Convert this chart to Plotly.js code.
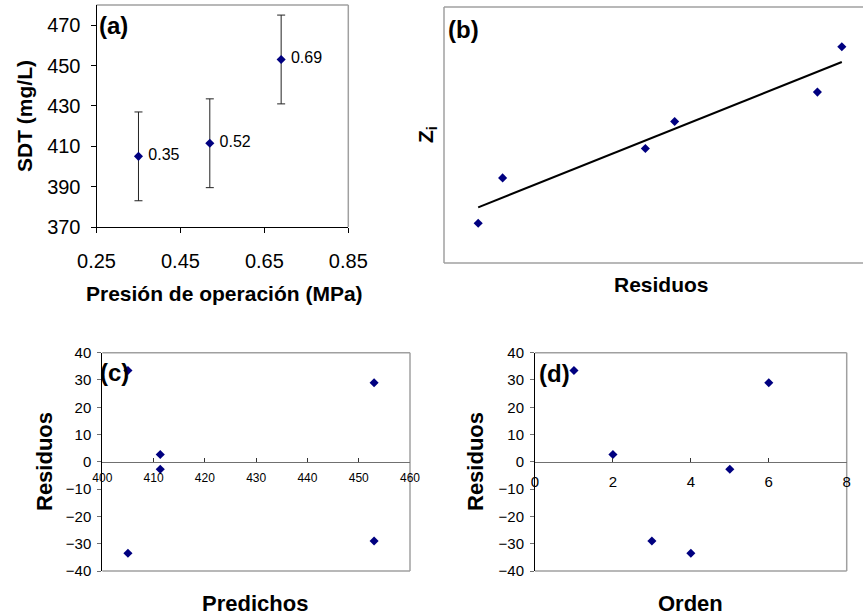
<!DOCTYPE html>
<html>
<head>
<meta charset="utf-8">
<script src="https://cdn.plot.ly/plotly-3.0.1.min.js"></script>
<style>html,body{margin:0;padding:0;background:#fff;}#chart{width:864px;height:616px;}</style>
</head>
<body>
<div id="chart"></div>
<script>
// Panel (a): SDT vs operating pressure
const pressure = [0.35, 0.52, 0.69];
const sdt = [405, 411.5, 453];
const sdtErr = [22, 22, 22];
const pressureLabels = ['0.35', '0.52', '0.69'];
const aXTicks = [0.25, 0.45, 0.65, 0.85];
const aYTicks = [370, 390, 410, 430, 450, 470];

// Panel (b): normal probability plot of residuals
const residSorted = [-33.5, -29, -2.7, 2.7, 29, 33.5];
const zScores = [-1.38, -0.67, -0.21, 0.21, 0.67, 1.38];
const fitX = [-33.5, 33.5];
const fitZ = [-1.13, 1.14];

// Panel (c): residuals vs predicted
const predicted = [405, 405, 411.3, 411.3, 453, 453];
const residPred = [33.5, -33.5, 2.7, -2.7, 29, -29];
const cXTicks = [400, 410, 420, 430, 440, 450, 460];
const resTicks = [-40, -30, -20, -10, 0, 10, 20, 30, 40];

// Panel (d): residuals vs run order
const order = [1, 2, 3, 4, 5, 6];
const residOrder = [33.5, 2.7, -29, -33.5, -2.7, 29];
const dXTicks = [0, 2, 4, 6, 8];

const FONT = 'Liberation Sans, Arial, sans-serif';
const NAVY = '#000080';
const mk = {symbol: 'diamond', color: NAVY, size: 7};

const W = 864, H = 616;
const px = v => v / W;
const py = v => 1 - v / H;

const traces = [
  {x: pressure, y: sdt, mode: 'markers+text', type: 'scatter', xaxis: 'x', yaxis: 'y',
   marker: mk, text: pressureLabels, texttemplate: '\u00a0%{text}', textposition: 'middle right',
   textfont: {family: FONT, size: 16, color: '#000'},
   error_y: {type: 'data', array: sdtErr, visible: true, color: '#222', thickness: 1, width: 4},
   cliponaxis: false},
  {x: fitX, y: fitZ, mode: 'lines', type: 'scatter', xaxis: 'x2', yaxis: 'y2',
   line: {color: '#000', width: 2}},
  {x: residSorted, y: zScores, mode: 'markers', type: 'scatter', xaxis: 'x2', yaxis: 'y2', marker: mk},
  {x: predicted, y: residPred, mode: 'markers', type: 'scatter', xaxis: 'x3', yaxis: 'y3', marker: mk, cliponaxis: false},
  {x: order, y: residOrder, mode: 'markers', type: 'scatter', xaxis: 'x4', yaxis: 'y4', marker: mk, cliponaxis: false}
];

const dA = {x: [px(96.5), px(348.3)], y: [py(227), py(5)]};
const dB = {x: [px(444), px(863)], y: [py(263), py(7)]};
const dC = {x: [px(102.3), px(410)], y: [py(571), py(352.7)]};
const dD = {x: [px(535), px(846.7)], y: [py(571), py(352.7)]};

const gray = '#a0a0a0';
function frame(xa, ya, sides) {
  const xr = xa + ' domain', yr = ya + ' domain';
  const all = {
    top: [0, 1, 1, 1], right: [1, 0, 1, 1], bottom: [0, 0, 1, 0], left: [0, 0, 0, 1]
  };
  return sides.map(s => ({type: 'line', xref: xr, yref: yr,
    x0: all[s][0], y0: all[s][1], x1: all[s][2], y1: all[s][3],
    line: {color: gray, width: 1.5}, layer: 'below'}));
}

const tickFont = s => ({family: FONT, size: s, color: '#000'});

const layout = {
  width: W, height: H,
  margin: {l: 0, r: 0, t: 0, b: 0},
  paper_bgcolor: '#fff', plot_bgcolor: 'rgba(0,0,0,0)',
  showlegend: false,
  font: {family: FONT, color: '#000'},
  xaxis: {domain: dA.x, anchor: 'y', range: [0.25, 0.85], tickvals: aXTicks, ticktext: aXTicks.map(v => v.toFixed(2)),
    showgrid: false, zeroline: false, showline: true, linecolor: '#000', linewidth: 1,
    ticks: 'outside', ticklen: 5, tickcolor: '#000', tickfont: tickFont(20), ticklabelstandoff: 11},
  yaxis: {domain: dA.y, anchor: 'x', range: [370, 480], tickvals: aYTicks,
    showgrid: false, zeroline: false, showline: true, linecolor: '#000', linewidth: 1,
    ticks: 'outside', ticklen: 5, tickcolor: '#000', tickfont: tickFont(20), ticklabelstandoff: 6},
  xaxis2: {domain: dB.x, anchor: 'y2', range: [-39.8, 37.4], showgrid: false, zeroline: false,
    showline: false, showticklabels: false, ticks: ''},
  yaxis2: {domain: dB.y, anchor: 'x2', range: [-2, 2], showgrid: false, zeroline: false,
    showline: false, showticklabels: false, ticks: ''},
  xaxis3: {domain: dC.x, anchor: 'free', position: (dC.y[0] + dC.y[1]) / 2, range: [400, 460], tickvals: cXTicks,
    showgrid: false, zeroline: false, showline: true, linecolor: '#707070', linewidth: 1.5,
    ticks: 'inside', ticklen: 4, tickcolor: '#333', tickfont: tickFont(12), ticklabelstandoff: 4},
  yaxis3: {domain: dC.y, anchor: 'x3', range: [-40, 40], tickvals: resTicks,
    showgrid: false, zeroline: false, showline: true, linecolor: '#000', linewidth: 1,
    ticks: 'outside', ticklen: 4, tickcolor: '#707070', tickfont: tickFont(15), ticklabelstandoff: 3},
  xaxis4: {domain: dD.x, anchor: 'free', position: (dD.y[0] + dD.y[1]) / 2, range: [0, 8], tickvals: dXTicks,
    showgrid: false, zeroline: false, showline: true, linecolor: '#707070', linewidth: 1.5,
    ticks: 'inside', ticklen: 4, tickcolor: '#333', tickfont: tickFont(15), ticklabelstandoff: 6},
  yaxis4: {domain: dD.y, anchor: 'x4', range: [-40, 40], tickvals: resTicks,
    showgrid: false, zeroline: false, showline: true, linecolor: '#000', linewidth: 1,
    ticks: 'outside', ticklen: 4, tickcolor: '#707070', tickfont: tickFont(15), ticklabelstandoff: 3},
  shapes: [].concat(
    frame('x', 'y', ['top', 'right']),
    frame('x2', 'y2', ['top', 'bottom', 'left']),
    frame('x3', 'y3', ['top', 'right', 'bottom']),
    frame('x4', 'y4', ['top', 'right', 'bottom'])
  ),
  annotations: [
    {text: '<b>(a)</b>', x: px(97), y: py(25), xref: 'paper', yref: 'paper', xanchor: 'left', yanchor: 'middle', showarrow: false, font: {family: FONT, size: 24}},
    {text: '<b>(b)</b>', x: px(446), y: py(30), xref: 'paper', yref: 'paper', xanchor: 'left', yanchor: 'middle', showarrow: false, font: {family: FONT, size: 24}},
    {text: '<b>(c)</b>', x: px(98), y: py(372), xref: 'paper', yref: 'paper', xanchor: 'left', yanchor: 'middle', showarrow: false, font: {family: FONT, size: 24}},
    {text: '<b>(d)</b>', x: px(537), y: py(374), xref: 'paper', yref: 'paper', xanchor: 'left', yanchor: 'middle', showarrow: false, font: {family: FONT, size: 24}},
    {text: '<b>Presión de operación (MPa)</b>', x: px(224), y: py(293), xref: 'paper', yref: 'paper', xanchor: 'center', yanchor: 'middle', showarrow: false, font: {family: FONT, size: 21}},
    {text: '<b>SDT (mg/L)</b>', x: px(24), y: py(116), xref: 'paper', yref: 'paper', xanchor: 'center', yanchor: 'middle', textangle: -90, showarrow: false, font: {family: FONT, size: 21}},
    {text: '<b>Residuos</b>', x: px(661), y: py(284), xref: 'paper', yref: 'paper', xanchor: 'center', yanchor: 'middle', showarrow: false, font: {family: FONT, size: 21}},
    {text: '<b>Z<sub>i</sub></b>', x: px(427), y: py(135), xref: 'paper', yref: 'paper', xanchor: 'center', yanchor: 'middle', textangle: -90, showarrow: false, font: {family: FONT, size: 21}},
    {text: '<b>Residuos</b>', x: px(44), y: py(462), xref: 'paper', yref: 'paper', xanchor: 'center', yanchor: 'middle', textangle: -90, showarrow: false, font: {family: FONT, size: 22}},
    {text: '<b>Predichos</b>', x: px(255), y: py(603), xref: 'paper', yref: 'paper', xanchor: 'center', yanchor: 'middle', showarrow: false, font: {family: FONT, size: 22}},
    {text: '<b>Residuos</b>', x: px(475), y: py(462), xref: 'paper', yref: 'paper', xanchor: 'center', yanchor: 'middle', textangle: -90, showarrow: false, font: {family: FONT, size: 22}},
    {text: '<b>Orden</b>', x: px(690), y: py(603), xref: 'paper', yref: 'paper', xanchor: 'center', yanchor: 'middle', showarrow: false, font: {family: FONT, size: 22}}
  ]
};

Plotly.newPlot('chart', traces, layout, {staticPlot: true, displayModeBar: false});
</script>
</body>
</html>
